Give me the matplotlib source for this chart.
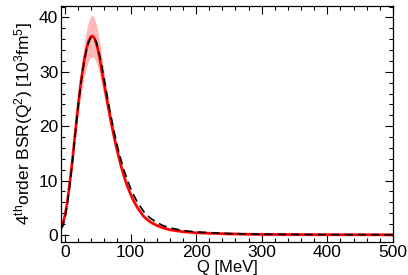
import matplotlib
matplotlib.use("Agg")
import matplotlib.pyplot as plt
from matplotlib.ticker import MultipleLocator
import numpy as np

plt.rcParams['font.family'] = ['Liberation Sans', 'DejaVu Sans']
plt.rcParams['mathtext.fontset'] = 'custom'
plt.rcParams['mathtext.rm'] = 'Liberation Sans'
plt.rcParams['mathtext.default'] = 'regular'

# Q in MeV
q = [-6, -3, 0, 3, 6, 9, 12, 15, 18, 21, 24, 27, 30, 33, 36, 39, 42, 45, 48, 51,
     54, 57, 60, 65, 70, 75, 80, 85, 90, 95, 100, 105, 110, 120, 130, 140, 150,
     160, 180, 200, 250, 300, 400, 500]

# 4th order BSR, red (central value)
bsr = [1.5, 2.2, 3.6, 5.6, 8.3, 11.2, 14.5, 18.0, 21.5, 24.8, 27.8, 30.3, 32.5,
       34.3, 35.6, 36.4, 36.6, 36.2, 35.2, 33.7, 31.8, 29.6, 27.6, 24.2, 21.0,
       18.0, 15.3, 12.9, 10.8, 9.0, 7.5, 6.2, 5.1, 3.4, 2.4, 1.75, 1.3, 0.95,
       0.6, 0.4, 0.2, 0.1, 0.05, 0.03]

# uncertainty of the red curve
err = [0.3, 0.35, 0.45, 0.6, 0.8, 1.0, 1.3, 1.6, 1.9, 2.2, 2.5, 2.8, 3.1, 3.4,
       3.6, 3.8, 3.8, 3.7, 3.5, 3.2, 2.9, 2.6, 2.3, 1.9, 1.6, 1.35, 1.15, 0.95,
       0.8, 0.7, 0.6, 0.5, 0.45, 0.4, 0.35, 0.3, 0.28, 0.26, 0.25, 0.25, 0.25,
       0.25, 0.25, 0.25]

# black dashed curve
bsr_dash = [1.1, 1.7, 3.1, 5.1, 7.8, 10.8, 14.2, 17.7, 21.2, 24.5, 27.5, 30.1,
            32.3, 34.1, 35.4, 36.2, 36.5, 36.2, 35.4, 34.1, 32.4, 30.5, 28.5,
            25.1, 21.9, 19.0, 16.3, 14.0, 11.9, 10.2, 8.6, 7.3, 6.1, 4.3, 3.1,
            2.3, 1.7, 1.3, 0.8, 0.55, 0.25, 0.12, 0.05, 0.03]

q = np.array(q)
bsr = np.array(bsr)
err = np.array(err)

fig = plt.figure(figsize=(4.08, 2.75), dpi=100)
ax = fig.add_axes([0.1495, 0.12, 0.8135, 0.858])

ax.fill_between(q, bsr - err, bsr + err, color='#ffb8b8', lw=0)
ax.plot(q, bsr, color='#ff0000', lw=1.9)
ax.plot(q, bsr_dash, color='black', lw=1.2, ls=(0, (5, 3)))

ax.set_xlim(-6, 500)
ax.set_ylim(-1.3, 42.1)
ax.xaxis.set_major_locator(MultipleLocator(100))
ax.xaxis.set_minor_locator(MultipleLocator(20))
ax.yaxis.set_major_locator(MultipleLocator(10))
ax.yaxis.set_minor_locator(MultipleLocator(2))
ax.tick_params(which='both', direction='in', top=True, right=True,
               labelsize=12.5, width=0.8)
ax.tick_params(which='major', length=6, pad=2)
ax.tick_params(which='minor', length=3)
for s in ax.spines.values():
    s.set_linewidth(0.9)

ax.set_xlabel('Q [MeV]', fontsize=12, labelpad=0)
ax.set_ylabel(r'4$^{th}$order BSR(Q$^2$) [10$^3$fm$^5$]', fontsize=12.5, labelpad=3)

fig.savefig('out.png', dpi=100)
